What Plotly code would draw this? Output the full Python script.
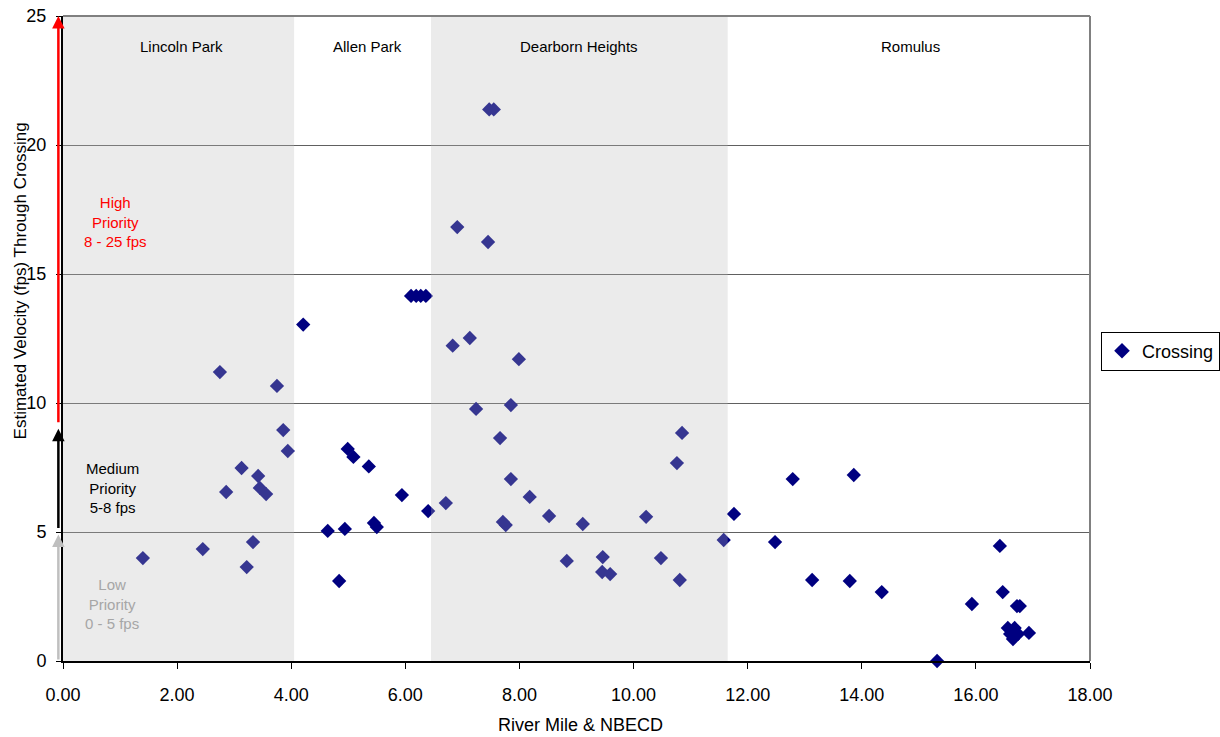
import plotly.graph_objects as go

# ---- data ----
river_mile = [
    1.40, 2.45, 2.75, 2.86, 3.13, 3.22, 3.33, 3.42, 3.45, 3.56, 3.75, 3.86, 3.94,
    4.21, 4.64, 4.84, 4.94, 4.99, 5.09, 5.36, 5.45, 5.50, 5.94, 6.40,
    6.10, 6.19, 6.27, 6.36,
    6.71, 6.83, 6.91, 7.13, 7.24, 7.45, 7.47, 7.55, 7.66, 7.71, 7.76, 7.85, 7.85,
    7.99, 8.18, 8.52, 8.83, 9.11, 9.45, 9.46, 9.59, 10.22, 10.48, 10.76, 10.81,
    10.85, 11.58,
    11.76, 12.48, 12.79, 13.13, 13.79, 13.86, 14.35, 15.32, 15.93, 16.42, 16.47,
    16.56, 16.60, 16.65, 16.68, 16.74, 16.72, 16.77, 16.93,
]
velocity = [
    3.99, 4.34, 11.20, 6.55, 7.48, 3.64, 4.61, 7.17, 6.71, 6.47, 10.66, 8.95, 8.14,
    13.04, 5.04, 3.10, 5.12, 8.22, 7.91, 7.54, 5.35, 5.19, 6.43, 5.81,
    14.15, 14.15, 14.15, 14.15,
    6.12, 12.22, 16.82, 12.52, 9.77, 16.24, 21.38, 21.38, 8.64, 5.39, 5.27, 9.92,
    7.05, 11.70, 6.36, 5.62, 3.88, 5.31, 3.45, 4.03, 3.37, 5.59, 3.99, 7.67, 3.14,
    8.84, 4.69,
    5.70, 4.61, 7.05, 3.14, 3.10, 7.21, 2.67, 0.00, 2.21, 4.46, 2.67,
    1.28, 1.05, 0.85, 1.28, 1.05, 2.13, 2.13, 1.09,
]
regions = ["Lincoln Park", "Allen Park", "Dearborn Heights", "Romulus"]
region_label_x = [2.07, 5.33, 9.05, 14.86]
shaded_from = [0.0, 6.45]
shaded_to = [4.05, 11.65]
x_ticks = [0, 2, 4, 6, 8, 10, 12, 14, 16, 18]
y_ticks = [0, 5, 10, 15, 20, 25]

FONT = "Liberation Sans, Arial, sans-serif"

fig = go.Figure()
fig.add_trace(go.Scatter(
    x=river_mile, y=velocity, mode="markers", name="Crossing",
    marker=dict(symbol="diamond", size=11, color="#000080", line=dict(width=0)),
    cliponaxis=False,
))

shapes = []
for x0, x1 in zip(shaded_from, shaded_to):
    shapes.append(dict(type="rect", xref="x", yref="y", x0=x0, x1=x1, y0=0, y1=25,
                       fillcolor="rgba(186,186,186,0.29)", line=dict(width=0),
                       layer="above"))
# top and right border
shapes.append(dict(type="line", xref="paper", yref="paper", x0=0, x1=1, y0=1, y1=1,
                   line=dict(color="#808080", width=2)))
shapes.append(dict(type="line", xref="paper", yref="paper", x0=1, x1=1, y0=0, y1=1,
                   line=dict(color="#808080", width=2)))

annotations = []
for name, xv in zip(regions, region_label_x):
    annotations.append(dict(x=xv, y=23.8, xref="x", yref="y", text=name,
                            showarrow=False, font=dict(size=15, color="black", family=FONT)))

annotations += [
    dict(x=0.92, y=17.0, xref="x", yref="y", text="High<br>Priority<br>8 - 25 fps",
         showarrow=False, font=dict(size=15, color="red", family=FONT)),
    dict(x=0.86, y=6.7, xref="x", yref="y", text="Medium<br>Priority<br>5-8 fps",
         showarrow=False, font=dict(size=15, color="black", family=FONT)),
    dict(x=0.86, y=2.2, xref="x", yref="y", text="Low<br>Priority<br>0 - 5 fps",
         showarrow=False, font=dict(size=15, color="#a6a6a6", family=FONT)),
]
# priority arrows (just left of the y axis)
for head, tail, col in [(25, 9.2, "red"), (9.0, 5.1, "black"), (4.9, 0.0, "#bfbfbf")]:
    annotations.append(dict(x=-0.0045, y=head, ax=0, ay=tail, xref="paper", yref="y",
                            axref="pixel", ayref="y", text="", showarrow=True,
                            arrowhead=2, arrowsize=1, arrowwidth=2.5, arrowcolor=col))

annotations.append(dict(x=-0.0419, y=0.59, xref="paper", yref="paper",
                        text="Estimated Velocity (fps) Through Crossing", textangle=-90,
                        xanchor="center", yanchor="middle",
                        showarrow=False, font=dict(size=17, color="black", family=FONT)))
annotations.append(dict(x=0.504, y=-0.099, xref="paper", yref="paper",
                        text="River Mile & NBECD", xanchor="center", yanchor="middle",
                        showarrow=False, font=dict(size=18, color="black", family=FONT)))

fig.update_layout(
    width=1220, height=737,
    margin=dict(l=63, r=130, t=16, b=76, autoexpand=False),
    paper_bgcolor="white", plot_bgcolor="white",
    font=dict(family=FONT, color="black"),
    shapes=shapes, annotations=annotations,
    showlegend=True,
    legend=dict(x=1.0107, y=0.4806, xanchor="left", yanchor="middle",
                bordercolor="black", borderwidth=1, font=dict(size=18, family=FONT),
                itemsizing="constant", itemwidth=30),
    xaxis=dict(range=[0, 18], tickvals=x_ticks, ticktext=[f"{v:.2f}" for v in x_ticks],
               showgrid=False, zeroline=False, showline=True, linecolor="black",
               linewidth=2, ticks="outside", ticklen=6, tickcolor="black",
               tickfont=dict(size=18), ticklabelstandoff=10, automargin=False),
    yaxis=dict(range=[0, 25], tickvals=y_ticks, showgrid=True, gridcolor="#606060",
               gridwidth=1, zeroline=False, showline=True, linecolor="black",
               linewidth=2, ticks="outside", ticklen=5, tickcolor="black",
               tickfont=dict(size=18), ticklabelstandoff=6, automargin=False),
)

fig.write_html("out.html", config={"displayModeBar": False},
               post_script="document.body.style.margin='0';document.body.style.overflow='hidden';")
